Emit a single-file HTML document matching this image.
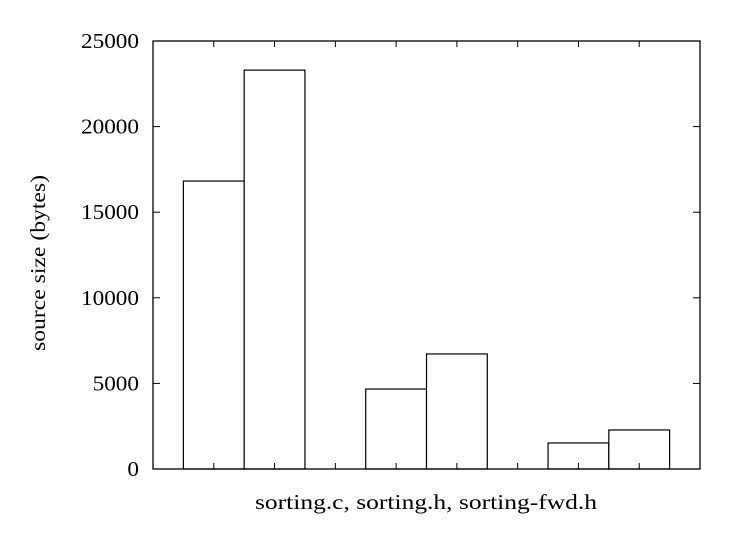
<!DOCTYPE html>
<html><head><meta charset="utf-8"><style>
body{margin:0;background:#fff}
svg text{font-family:"Liberation Serif",serif;fill:#000}
</style></head><body>
<svg width="748" height="530">
<g id="g"></g>
</svg>
<script>
const categories=["sorting.c a","sorting.c b","sorting.h a","sorting.h b","sorting-fwd.h a","sorting-fwd.h b"];
const positions=[0,1,3,4,6,7];
const values=[16820,23300,4670,6720,1520,2280];
const yTicks=[0,5000,10000,15000,20000,25000];
const xTicks=[0,1,2,3,4,5,6,7];
const L=153,R=700,T=41,B=469;
const x=v=>L+(v+1)/9*(R-L);
const y=v=>B-v/25000*(B-T);
const g=document.getElementById('g');
const NS='http://www.w3.org/2000/svg';
function mk(t,a){const e=document.createElementNS(NS,t);for(const k in a)e.setAttribute(k,a[k]);g.appendChild(e);return e;}
values.forEach((v,i)=>{
 const r=mk('rect',{x:x(positions[i]-0.5),y:y(v),width:x(1)-x(0),height:B-y(v),fill:'#fff',stroke:'#000','stroke-width':1.2});
 
 
});
xTicks.forEach(t=>{
 mk('line',{x1:x(t),x2:x(t),y1:B,y2:B-6,stroke:'#000'});
 mk('line',{x1:x(t),x2:x(t),y1:T,y2:T+6,stroke:'#000'});
});
yTicks.forEach(t=>{
 mk('line',{x1:L,x2:L+7,y1:y(t),y2:y(t),stroke:'#000'});
 mk('line',{x1:R,x2:R-7,y1:y(t),y2:y(t),stroke:'#000'});
 const s=String(t);
 const tx=mk('text',{x:L-14,y:y(t)+7,'text-anchor':'end','font-size':21,textLength:s.length*11.6,lengthAdjust:'spacingAndGlyphs'});
 tx.textContent=s;
 
 
});
const fr=mk('rect',{x:L,y:T,width:R-L,height:B-T,fill:'none',stroke:'#000','stroke-width':1.3});


const xl=mk('text',{x:255,y:509,'font-size':21,textLength:342,lengthAdjust:'spacingAndGlyphs'});
xl.textContent='sorting.c, sorting.h, sorting-fwd.h';


const yl=mk('text',{x:0,y:0,'text-anchor':'middle','font-size':21,textLength:176,lengthAdjust:'spacingAndGlyphs',transform:'translate(45,263) rotate(-90)'});
yl.textContent='source size (bytes)';


</script>
</body></html>
